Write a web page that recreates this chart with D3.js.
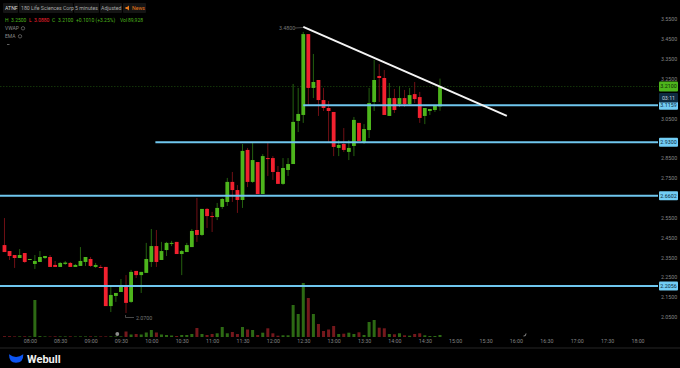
<!DOCTYPE html>
<html>
<head>
<meta charset="utf-8">
<script src="https://cdn.jsdelivr.net/npm/d3@7"></script>
<style>
  html, body { margin: 0; padding: 0; background: #000; overflow: hidden; }
  text { font-family: Roboto, sans-serif; }
</style>
</head>
<body>
<div id="chart"></div>
<script>
// candles start at 07:35, one every 5 minutes
const firstCandle = 455;
const candleStep = 5;

const opens = [2.412,2.382,2.362,2.347,2.372,2.339,2.317,2.327,2.347,2.352,
  2.312,2.302,2.317,2.322,2.302,2.307,2.327,2.342,2.302,2.302,
  2.302,2.105,2.156,2.176,2.206,2.126,2.282,2.261,2.272,2.327,
  2.407,2.337,2.387,2.418,2.428,2.367,2.377,2.402,2.488,2.463,
  2.594,2.558,2.553,2.604,2.629,2.730,2.689,2.639,2.891,2.730,
  2.830,2.669,2.850,2.850,2.780,2.720,2.790,2.820,3.037,3.067,
  3.474,3.203,3.243,3.142,3.102,3.082,2.901,2.921,2.881,2.911,
  3.027,2.931,2.991,3.132,3.263,3.253,3.062,3.152,3.122,3.152,
  3.122,3.172,3.157,3.062,3.087,3.092,3.110];
const closes = [2.377,2.357,2.347,2.362,2.327,2.342,2.332,2.352,2.357,2.302,
  2.302,2.322,2.324,2.302,2.312,2.332,2.352,2.307,2.312,2.297,
  2.105,2.161,2.171,2.206,2.121,2.277,2.261,2.277,2.342,2.407,
  2.327,2.382,2.423,2.423,2.367,2.382,2.412,2.483,2.463,2.594,
  2.558,2.553,2.599,2.644,2.730,2.689,2.639,2.886,2.730,2.840,
  2.669,2.860,2.845,2.780,2.720,2.800,2.820,3.032,3.072,3.474,
  3.203,3.233,3.142,3.102,3.087,2.906,2.916,2.891,2.901,3.042,
  2.936,2.996,3.127,3.243,3.253,3.067,3.152,3.092,3.152,3.122,
  3.167,3.147,3.052,3.102,3.097,3.112,3.210];
const highs = [2.548,2.382,2.362,2.392,2.372,2.342,2.362,2.382,2.357,2.362,
  2.332,2.327,2.332,2.327,2.317,2.402,2.352,2.352,2.322,2.312,
  2.302,2.201,2.171,2.241,2.261,2.287,2.282,2.277,2.423,2.493,
  2.488,2.428,2.428,2.433,2.428,2.387,2.423,2.493,2.649,2.594,
  2.599,2.579,2.624,2.649,2.750,2.780,2.714,2.921,2.901,2.926,
  2.830,2.870,2.926,2.860,2.810,2.850,2.850,3.223,3.203,3.485,
  3.474,3.374,3.243,3.203,3.137,3.082,2.941,3.001,2.941,3.057,
  3.027,3.021,3.203,3.344,3.323,3.293,3.228,3.198,3.213,3.193,
  3.203,3.233,3.183,3.102,3.097,3.112,3.250];
const lows = [2.377,2.337,2.297,2.347,2.322,2.339,2.292,2.327,2.342,2.302,
  2.302,2.302,2.312,2.302,2.302,2.307,2.307,2.302,2.297,2.297,
  2.105,2.075,2.126,2.176,2.070,2.121,2.246,2.171,2.272,2.302,
  2.302,2.337,2.357,2.407,2.367,2.261,2.377,2.402,2.428,2.458,
  2.498,2.478,2.538,2.594,2.609,2.629,2.574,2.599,2.704,2.725,
  2.669,2.669,2.760,2.740,2.720,2.715,2.760,2.820,2.981,3.027,
  3.117,3.152,3.062,3.087,2.931,2.860,2.860,2.881,2.840,2.860,
  2.936,2.921,2.951,3.087,3.132,3.067,3.062,3.077,3.107,3.107,
  3.117,3.127,3.027,3.021,3.067,3.082,3.088];

// thousand shares
const volumes = [80,80,60,60,70,60,3700,90,60,50,
  70,60,60,70,50,60,60,70,60,60,
  60,70,60,60,550,250,300,250,450,700,
  450,250,200,150,100,200,200,300,900,300,
  200,300,370,1000,370,500,300,1000,750,700,
  200,430,870,370,130,170,170,3200,2300,5400,
  3900,2300,1300,600,750,1100,300,330,430,300,
  470,200,1500,1700,930,870,300,270,370,170,
  130,300,370,170,100,100,200];

const priceTicks = [3.55,3.45,3.35,3.25,3.05,2.85,2.75,2.55,2.45,2.35,2.25,2.15,2.05];
const timeLabels = ["08:00","08:30","09:00","09:30","10:00","10:30","11:00","11:30","12:00","12:30","13:00",
  "13:30","14:00","14:30","15:00","15:30","16:00","16:30","17:00","17:30","18:00"];

// drawn levels: price and the minute they start from
const levelPrices = [3.1159,2.93,2.6602,2.2056];
const levelLabels = ["3.1159","2.9300","2.6602","2.2056"];
const levelStarts = [750,604,450,450];

const trendTimes = [750,951];
const trendPrices = [3.51,3.062];

const lastPrice = 3.21;
const highMark = 3.48;
const lowMark = 2.07;

const width = 680, height = 368;
const plotRight = 658;
const up = "#4db51c", down = "#f2212f";
const upDark = "#24600f", downDark = "#701015";
const upVol = "#2d6a14", downVol = "#74181c";
const levelColor = "#6fc6ee";

const toMinutes = s => +s.slice(0, 2) * 60 + +s.slice(3);

const svg = d3.select("#chart").append("svg")
  .attr("width", width)
  .attr("height", height)
  .style("display", "block")
  .style("background", "#000");

const x = d3.scaleLinear().domain([480, 1080]).range([29.8, 637.5]);
const y = d3.scaleLinear().domain([2.05, 3.55]).range([317, 19]);
const v = d3.scaleLinear().domain([0, 5500]).range([337, 282]);

const candles = opens.map((o, i) => ({
  t: firstCandle + i * candleStep,
  open: o,
  close: closes[i],
  high: highs[i],
  low: lows[i],
  vol: volumes[i],
  rising: closes[i] >= o
}));

// last price dashed line
svg.append("line")
  .attr("x1", 0).attr("x2", plotRight)
  .attr("y1", y(lastPrice)).attr("y2", y(lastPrice))
  .attr("stroke", "#1d4a0d")
  .attr("stroke-width", 0.7)
  .attr("stroke-dasharray", "1.5,1.5");

// volume
svg.append("g").selectAll("rect")
  .data(candles)
  .join("rect")
  .attr("x", d => x(d.t) - 1.5)
  .attr("width", 3)
  .attr("y", d => v(d.vol))
  .attr("height", d => v(0) - v(d.vol))
  .attr("fill", d => d.rising ? upVol : downVol);

// wicks
svg.append("g").selectAll("line")
  .data(candles)
  .join("line")
  .attr("x1", d => x(d.t))
  .attr("x2", d => x(d.t))
  .attr("y1", d => y(d.high))
  .attr("y2", d => y(d.low))
  .attr("stroke", d => d.rising ? upDark : downDark)
  .attr("stroke-width", 1);

// bodies
svg.append("g").selectAll("rect")
  .data(candles)
  .join("rect")
  .attr("x", d => x(d.t) - 1.9)
  .attr("width", 3.8)
  .attr("y", d => y(Math.max(d.open, d.close)))
  .attr("height", d => Math.max(1, Math.abs(y(d.open) - y(d.close))))
  .attr("fill", d => d.rising ? up : down);

// horizontal levels
svg.append("g").selectAll("line")
  .data(levelPrices)
  .join("line")
  .attr("x1", (d, i) => Math.max(0, x(levelStarts[i])))
  .attr("x2", plotRight)
  .attr("y1", d => y(d))
  .attr("y2", d => y(d))
  .attr("stroke", levelColor)
  .attr("stroke-width", 2);

// trend line
svg.append("line")
  .attr("x1", x(trendTimes[0])).attr("y1", y(trendPrices[0]))
  .attr("x2", x(trendTimes[1])).attr("y2", y(trendPrices[1]))
  .attr("stroke", "#f4f4f4")
  .attr("stroke-width", 2);

// axes
const yAxis = svg.append("g")
  .attr("transform", `translate(660,0)`)
  .call(d3.axisRight(y).tickValues(priceTicks).tickSize(0).tickPadding(1).tickFormat(d3.format(".4f")));
yAxis.select(".domain").remove();
yAxis.selectAll("text").attr("fill", "#858585").style("font-size", "5.3px");

const xAxis = svg.append("g")
  .attr("transform", `translate(0,339)`)
  .call(d3.axisBottom(x).tickValues(timeLabels.map(toMinutes)).tickSize(0).tickPadding(0)
    .tickFormat((d, i) => timeLabels[i]));
xAxis.select(".domain").remove();
xAxis.selectAll("text").attr("fill", "#858585").style("font-size", "5.3px");

// price tags on the right
function tag(yTop, h, fill, label, color) {
  svg.append("rect").attr("x", 659).attr("y", yTop).attr("width", 19).attr("height", h)
    .attr("rx", 1).attr("fill", fill);
  svg.append("text").attr("x", 668.5).attr("y", yTop + h / 2 + 1.8)
    .attr("text-anchor", "middle").attr("fill", color)
    .style("font-size", "5.3px").text(label);
}
levelPrices.forEach((p, i) => tag(y(p) - 4.5, 9, "#72cdf5", levelLabels[i], "#0b2a3c"));
tag(y(lastPrice) - 5, 10, "#4db51c", "3.2100", "#0f2a05");
tag(93, 9.5, "#0e2a40", "03:11", "#c6d4de");

// high and low marks
svg.append("text").attr("x", 279).attr("y", 29.8).attr("fill", "#777")
  .style("font-size", "5.3px").text(highMark.toFixed(4));
svg.append("line").attr("x1", 295).attr("x2", x(750)).attr("y1", 28).attr("y2", 27.5)
  .attr("stroke", "#777").attr("stroke-width", 0.6);
svg.append("path")
  .attr("d", `M125.5 ${y(lowMark) + 2}V317.5H134`)
  .attr("fill", "none").attr("stroke", "#777").attr("stroke-width", 0.6);
svg.append("text").attr("x", 136).attr("y", 319.5).attr("fill", "#777")
  .style("font-size", "5.3px").text(lowMark.toFixed(4));

// small markers
svg.append("circle").attr("cx", 117.3).attr("cy", 334).attr("r", 1.9).attr("fill", "#8c8c8c");
svg.append("path").attr("d", "M523.5 336Q526 336.5 526 333.5")
  .attr("fill", "none").attr("stroke", "#aaa").attr("stroke-width", 0.8);

// header
const pills = [[3, 15], [19, 54], [74, 25], [100, 22], [123, 23]];
svg.append("g").selectAll("rect")
  .data(pills)
  .join("rect")
  .attr("x", d => d[0]).attr("y", 3).attr("width", d => d[1]).attr("height", 10)
  .attr("rx", 1).attr("fill", "#141414");

function label(xPos, yPos, s, color, size) {
  svg.append("text").attr("x", xPos).attr("y", yPos).attr("fill", color)
    .style("font-size", (size || 5.2) + "px").text(s);
}
label(5, 10, "ATNF", "#d8d8d8");
label(21, 10, "180 Life Sciences Corp", "#a8a8a8");
label(75, 10, "5 minutes", "#a8a8a8");
label(101, 10, "Adjusted", "#a8a8a8");
label(132, 10, "News", "#e8781a");
svg.append("path").attr("d", "M125.5 7h1.5l2 -1.6v5.2l-2 -1.6h-1.5z").attr("fill", "#e8781a");

label(5, 21.5, "H", up, 5);
label(11, 21.5, "3.2500", up, 5);
label(29, 21.5, "L", down, 5);
label(34, 21.5, "3.0880", down, 5);
label(52, 21.5, "C", up, 5);
label(58, 21.5, "3.2100", up, 5);
label(76, 21.5, "+0.1010 (+3.25%)", up, 5);
label(120, 21.5, "Vol", up, 5);
label(128, 21.5, "89,928", up, 5);
label(5, 30, "VWAP", "#8a8a8a", 5);
label(5, 38, "EMA", "#8a8a8a", 5);
[[23, 28.3], [20, 36.3]].forEach(p => {
  svg.append("circle").attr("cx", p[0]).attr("cy", p[1]).attr("r", 1.7)
    .attr("fill", "none").attr("stroke", "#8a8a8a").attr("stroke-width", 0.6);
});
svg.append("path").attr("d", "M7 44.5h2.5").attr("stroke", "#8a8a8a").attr("stroke-width", 0.7);

// footer
svg.append("line").attr("x1", 0).attr("x2", width).attr("y1", 348).attr("y2", 348)
  .attr("stroke", "#262626").attr("stroke-width", 1);
svg.append("path")
  .attr("d", "M9 354.3Q16 359.5 23.3 354.3Q23.5 362.8 16 362.8Q9 362.8 9 354.3Z")
  .attr("fill", "#0d55f2");
svg.append("text").attr("x", 27).attr("y", 362.5).attr("fill", "#f0f0f0")
  .style("font-size", "11px").style("font-weight", "700").text("Webull");
</script>
</body>
</html>
